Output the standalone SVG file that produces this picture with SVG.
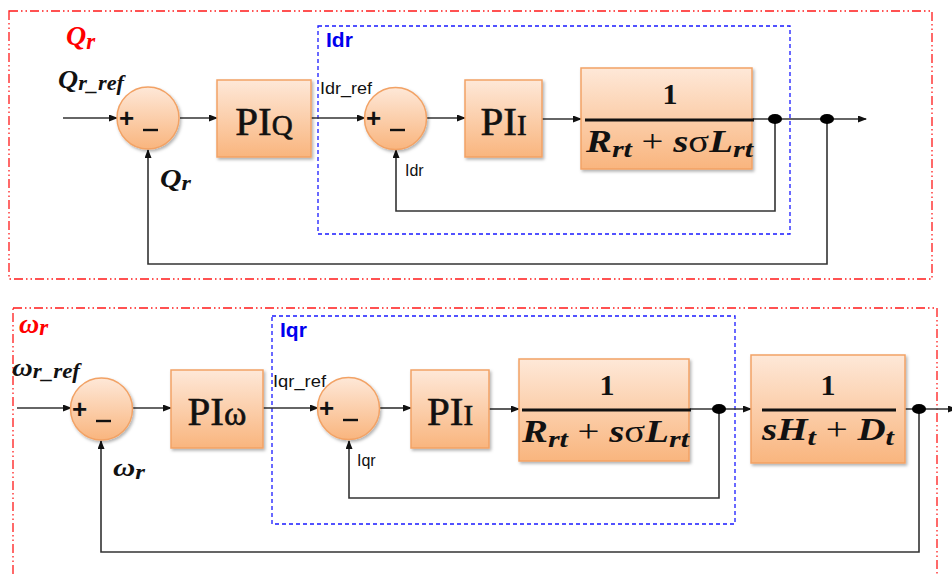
<svg xmlns="http://www.w3.org/2000/svg" width="952" height="575" viewBox="0 0 952 575">
  <defs>
    <linearGradient id="blockFill" x1="0" y1="0" x2="0" y2="1">
      <stop offset="0" stop-color="#fee8d8"/>
      <stop offset="1" stop-color="#f9b57e"/>
    </linearGradient>
    <filter id="shadow" x="-10%" y="-10%" width="130%" height="130%">
      <feDropShadow dx="1.5" dy="2" stdDeviation="1.5" flood-color="#000" flood-opacity="0.3"/>
    </filter>
    <marker id="arrow" markerWidth="9" markerHeight="7" refX="8" refY="3.5" orient="auto" markerUnits="userSpaceOnUse">
      <path d="M0,0 L9,3.5 L0,7 Z" fill="#111"/>
    </marker>
  </defs>
  <style>
    .zone { fill: none; stroke: #ff1a1a; stroke-width: 1.3; stroke-dasharray: 9 3 1.5 3 1.5 3; }
    .inner { fill: none; stroke: #1a1aff; stroke-width: 1.3; stroke-dasharray: 4 3; }
    .block { fill: url(#blockFill); stroke: #f2a265; stroke-width: 1.5; filter: url(#shadow); }
    .wire { fill: none; stroke: #333; stroke-width: 1.6; }
    .frac { stroke: #111; stroke-width: 3; }
    .dot { fill: #000; }
    .zoneLabel { font-family: "Liberation Serif", serif; font-weight: bold; font-style: italic; fill: #ff0000; }
    .innerLabel { font-family: "Liberation Sans", sans-serif; font-weight: bold; font-size: 21px; fill: #0000ee; }
    .sig { font-family: "Liberation Serif", serif; font-weight: bold; font-style: italic; fill: #111; }
    .small { font-family: "Liberation Sans", sans-serif; font-size: 16px; fill: #111; }
    .pi { font-family: "Liberation Serif", serif; fill: #111; stroke: #111; stroke-width: 0.6; }
    .math { font-family: "Liberation Serif", serif; font-weight: bold; fill: #111; }
    .sign { font-family: "Liberation Sans", sans-serif; font-weight: bold; font-size: 26px; fill: #111; }
    .bar { stroke: #111; stroke-width: 2.4; }
  </style>

  <!-- outer control loop frames -->
  <rect class="zone" x="9" y="11" width="923" height="268"/>
  <rect class="zone" x="13" y="308" width="924" height="280"/>
  <!-- inner current loop frames -->
  <rect class="inner" x="318" y="26" width="472" height="208"/>
  <rect class="inner" x="272" y="316" width="463" height="208"/>

  <text class="zoneLabel" x="66" y="45" font-size="28">Q<tspan font-size="23" dy="4">r</tspan></text>
  <text class="zoneLabel" x="19" y="333" font-size="28">ω<tspan font-size="23" dy="2">r</tspan></text>
  <text class="innerLabel" x="326" y="47">Idr</text>
  <text class="innerLabel" x="280" y="337">Iqr</text>

  <!-- connectors -->
  <g id="connectors">
    <!-- reactive power loop -->
    <line class="wire" x1="63" y1="118" x2="117" y2="118" marker-end="url(#arrow)"/>
    <line class="wire" x1="180" y1="118" x2="217" y2="118" marker-end="url(#arrow)"/>
    <line class="wire" x1="311" y1="118" x2="365" y2="118" marker-end="url(#arrow)"/>
    <line class="wire" x1="427" y1="118" x2="465" y2="118" marker-end="url(#arrow)"/>
    <line class="wire" x1="542" y1="119" x2="581" y2="119" marker-end="url(#arrow)"/>
    <line class="wire" x1="752" y1="119" x2="866" y2="119" marker-end="url(#arrow)"/>
    <polyline class="wire" points="775,119 775,211 396,211 396,150" marker-end="url(#arrow)"/>
    <polyline class="wire" points="827,119 827,264 148,264 148,150" marker-end="url(#arrow)"/>
    <!-- speed loop -->
    <line class="wire" x1="17" y1="408" x2="71" y2="408" marker-end="url(#arrow)"/>
    <line class="wire" x1="132" y1="408" x2="171" y2="408" marker-end="url(#arrow)"/>
    <line class="wire" x1="263" y1="408" x2="318" y2="408" marker-end="url(#arrow)"/>
    <line class="wire" x1="379" y1="408" x2="411" y2="408" marker-end="url(#arrow)"/>
    <line class="wire" x1="489" y1="409" x2="519" y2="409" marker-end="url(#arrow)"/>
    <line class="wire" x1="689" y1="409" x2="751" y2="409" marker-end="url(#arrow)"/>
    <line class="wire" x1="905" y1="409" x2="956" y2="409" marker-end="url(#arrow)"/>
    <polyline class="wire" points="719,409 719,498 349,498 349,441" marker-end="url(#arrow)"/>
    <polyline class="wire" points="919,409 919,552 101,552 101,441" marker-end="url(#arrow)"/>
    <ellipse class="dot" cx="775" cy="119" rx="7" ry="5"/>
    <ellipse class="dot" cx="827" cy="119" rx="7" ry="5"/>
    <ellipse class="dot" cx="719" cy="409" rx="7" ry="5"/>
    <ellipse class="dot" cx="919" cy="409" rx="7" ry="5"/>
  </g>

  <!-- signal labels -->
  <text class="sig" x="58" y="88" font-size="25" textLength="66" lengthAdjust="spacingAndGlyphs">Q<tspan font-size="20" dy="2">r_ref</tspan></text>
  <text class="sig" x="160" y="187" font-size="26" textLength="31" lengthAdjust="spacingAndGlyphs">Q<tspan font-size="21" dy="3">r</tspan></text>
  <text class="small" x="320" y="94" textLength="52" lengthAdjust="spacingAndGlyphs">Idr_ref</text>
  <text class="small" x="405" y="176">Idr</text>
  <text class="sig" x="12" y="376" font-size="25" textLength="68" lengthAdjust="spacingAndGlyphs">ω<tspan font-size="20" dy="2">r_ref</tspan></text>
  <text class="sig" x="113" y="476" font-size="26" textLength="32" lengthAdjust="spacingAndGlyphs">ω<tspan font-size="21" dy="3">r</tspan></text>
  <text class="small" x="273" y="387" textLength="53" lengthAdjust="spacingAndGlyphs">Iqr_ref</text>
  <text class="small" x="357" y="466">Iqr</text>

  <!-- summing junctions -->
  <g id="sum-q">
    <circle class="block" cx="148" cy="118" r="31"/>
    <text class="sign" x="119" y="127">+</text>
    <line class="bar" x1="143" y1="130" x2="158" y2="130"/>
  </g>
  <g id="sum-idr">
    <circle class="block" cx="395.5" cy="118.5" r="31"/>
    <text class="sign" x="366" y="127">+</text>
    <line class="bar" x1="390" y1="130" x2="405" y2="130"/>
  </g>
  <g id="sum-w">
    <circle class="block" cx="101.5" cy="409" r="31"/>
    <text class="sign" x="72" y="418">+</text>
    <line class="bar" x1="96" y1="421" x2="111" y2="421"/>
  </g>
  <g id="sum-iqr">
    <circle class="block" cx="348.5" cy="408.5" r="31"/>
    <text class="sign" x="319" y="417">+</text>
    <line class="bar" x1="343" y1="420" x2="358" y2="420"/>
  </g>

  <!-- controllers -->
  <g id="pi-q">
    <rect class="block" x="217" y="80" width="94" height="77"/>
    <text class="pi" x="264" y="135" text-anchor="middle" font-size="41">PI<tspan font-size="29">Q</tspan></text>
  </g>
  <g id="pi-idr">
    <rect class="block" x="465" y="80" width="77" height="77"/>
    <text class="pi" x="503.5" y="135" text-anchor="middle" font-size="41">PI<tspan font-size="29">I</tspan></text>
  </g>
  <g id="pi-w">
    <rect class="block" x="171" y="370" width="92" height="78"/>
    <text class="pi" x="217" y="425" text-anchor="middle" font-size="41">PI<tspan font-size="34">ω</tspan></text>
  </g>
  <g id="pi-iqr">
    <rect class="block" x="411" y="370" width="78" height="78"/>
    <text class="pi" x="450" y="425" text-anchor="middle" font-size="41">PI<tspan font-size="29">I</tspan></text>
  </g>

  <!-- plant transfer functions -->
  <g id="rotor-d">
    <rect class="block" x="581" y="68" width="171" height="101"/>
    <line class="frac" x1="585" y1="120" x2="754" y2="120"/>
    <text class="math" x="670" y="104" text-anchor="middle" font-size="30">1</text>
    <text class="math" x="586" y="152" font-size="31" font-style="italic" textLength="167" lengthAdjust="spacingAndGlyphs">R<tspan font-size="24" dy="5">rt</tspan><tspan dy="-5" font-style="normal" font-weight="normal"> + </tspan>s<tspan font-style="normal" font-weight="normal">σ</tspan>L<tspan font-size="24" dy="5">rt</tspan></text>
  </g>
  <g id="rotor-q">
    <rect class="block" x="519" y="359" width="170" height="102"/>
    <line class="frac" x1="522" y1="410" x2="691" y2="410"/>
    <text class="math" x="607" y="395" text-anchor="middle" font-size="30">1</text>
    <text class="math" x="522" y="442" font-size="31" font-style="italic" textLength="167" lengthAdjust="spacingAndGlyphs">R<tspan font-size="24" dy="5">rt</tspan><tspan dy="-5" font-style="normal" font-weight="normal"> + </tspan>s<tspan font-style="normal" font-weight="normal">σ</tspan>L<tspan font-size="24" dy="5">rt</tspan></text>
  </g>
  <g id="mechanics">
    <rect class="block" x="751" y="355" width="154" height="108"/>
    <line class="frac" x1="762" y1="410" x2="896" y2="410"/>
    <text class="math" x="828" y="395" text-anchor="middle" font-size="30">1</text>
    <text class="math" x="762" y="440" font-size="31" font-style="italic" textLength="132" lengthAdjust="spacingAndGlyphs">sH<tspan font-size="24" dy="5">t</tspan><tspan dy="-5" font-style="normal" font-weight="normal"> + </tspan>D<tspan font-size="24" dy="5">t</tspan></text>
  </g>
</svg>
